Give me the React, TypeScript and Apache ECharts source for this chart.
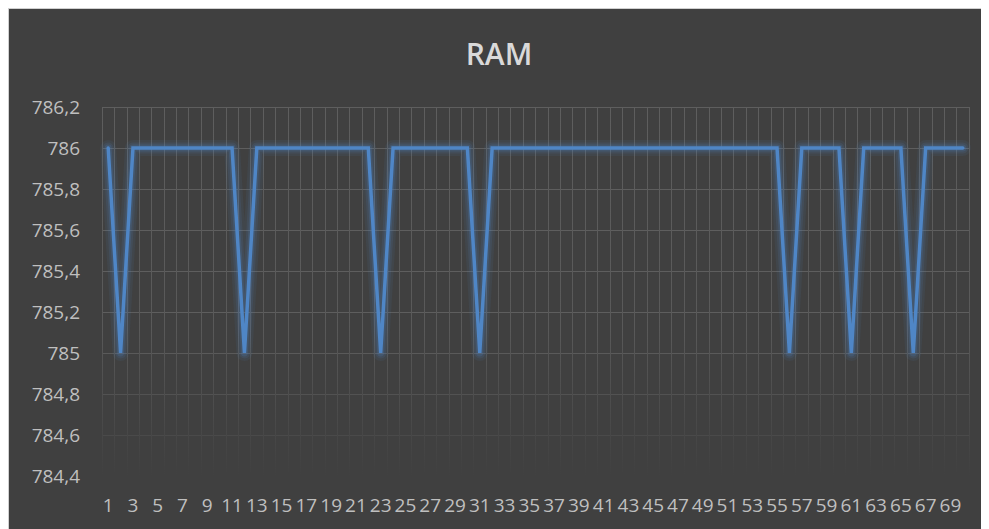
import React, { useEffect, useRef } from "react";
import * as echarts from "echarts";

const categories: string[] = Array.from({ length: 70 }, (_, i) => String(i + 1));
// RAM values (1-based categories 1..70)
const ramValues: number[] = [
  786, 785, 786, 786, 786, 786, 786, 786, 786, 786,
  786, 785, 786, 786, 786, 786, 786, 786, 786, 786,
  786, 786, 785, 786, 786, 786, 786, 786, 786, 786,
  785, 786, 786, 786, 786, 786, 786, 786, 786, 786,
  786, 786, 786, 786, 786, 786, 786, 786, 786, 786,
  786, 786, 786, 786, 786, 785, 786, 786, 786, 786,
  785, 786, 786, 786, 786, 785, 786, 786, 786, 786,
];
const yMin = 784.4;
const yMax = 786.2;
const yStep = 0.2;

export default function App() {
  const ref = useRef<HTMLDivElement>(null);
  useEffect(() => {
    if (!ref.current) return;
    const chart = echarts.init(ref.current, undefined, { renderer: "svg" });
    const gridTop = 98;
    const gridBottomPx = 520 - 53;
    const glow = (width: number, alpha: number) => ({
      type: "line",
      data: ramValues,
      symbol: "none",
      silent: true,
      z: 1,
      lineStyle: {
        color: `rgba(79,134,198,${alpha})`,
        width,
        cap: "round",
        join: "round",
      },
    });
    chart.setOption({
      animation: false,
      backgroundColor: "#404040",
      title: {
        text: "RAM",
        left: "center",
        top: 24,
        textStyle: {
          color: "#d9d9d9",
          fontSize: 30,
          fontWeight: 600,
          fontFamily: "Open Sans",
        },
      },
      grid: { left: 93, right: 20, top: gridTop, bottom: 53, containLabel: false },
      xAxis: {
        type: "category",
        data: categories,
        boundaryGap: true,
        axisLine: { show: false },
        axisTick: { show: false },
        axisLabel: {
          interval: 1,
          color: "#bfbfbf",
          fontSize: 19,
          fontFamily: "Open Sans",
          margin: 19,
        },
        splitLine: {
          show: true,
          interval: 0,
          lineStyle: {
            width: 1,
            color: new echarts.graphic.LinearGradient(
              0, gridTop, 0, gridBottomPx,
              [
                { offset: 0, color: "#5e5e5e" },
                { offset: 0.6, color: "#595959" },
                { offset: 1, color: "#404040" },
              ],
              true
            ),
          },
        },
      },
      yAxis: {
        type: "value",
        min: yMin,
        max: yMax,
        interval: yStep,
        axisLine: { show: false },
        axisTick: { show: false },
        axisLabel: {
          color: "#bfbfbf",
          fontSize: 19,
          fontFamily: "Open Sans",
          margin: 22,
          formatter: (v: number) => {
            const r = Math.round(v * 10) / 10;
            return String(r).replace(".", ",");
          },
        },
        splitLine: {
          show: true,
          lineStyle: {
            width: 1,
            color: [
              "#404040",
              "#4a4a4a",
              "#525252",
              "#5a5a5a",
              "#5e5e5e",
              "#5e5e5e",
              "#5e5e5e",
              "#5e5e5e",
              "#5e5e5e",
              "#5e5e5e",
            ],
          },
        },
      },
      series: [
        glow(16, 0.08),
        glow(11, 0.12),
        glow(7, 0.18),
        {
          type: "line",
          data: ramValues,
          symbol: "none",
          z: 3,
          lineStyle: {
            color: "#4f86c6",
            width: 3.5,
            cap: "round",
            join: "miter",
          },
        },
      ],
    });
    return () => chart.dispose();
  }, []);
  return (
    <div
      ref={ref}
      style={{
        width: 981,
        height: 521,
        boxSizing: "border-box",
        borderLeft: "1px solid #d0d0d0",
        borderTop: "1px solid #d0d0d0",
      }}
    />
  );
}
